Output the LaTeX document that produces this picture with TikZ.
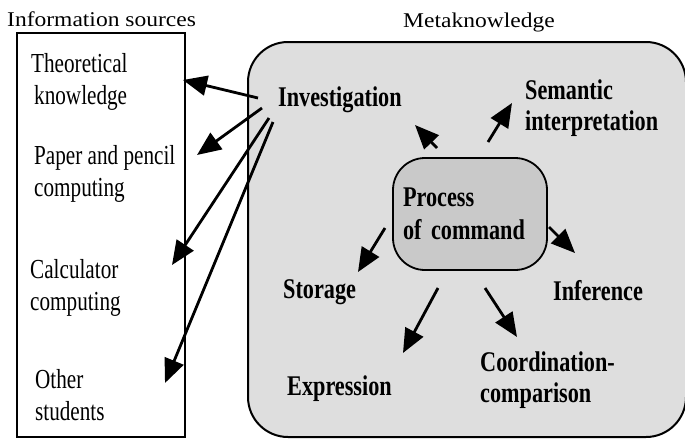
\documentclass[tikz,border=0pt]{standalone}
\usepackage{fontspec}
\setmainfont{Liberation Serif}
\newfontfamily\titlefont[FakeStretch=1.12]{Liberation Serif}
\newfontfamily\regfont[FakeStretch=0.77]{Liberation Serif}
\newfontfamily\boldfont[FakeStretch=0.78]{Liberation Serif}
\usetikzlibrary{arrows.meta}
\definecolor{metafill}{HTML}{DEDEDE}
\definecolor{procfill}{HTML}{C9C9C9}
\tikzset{
  titletext/.style={font=\titlefont\fontsize{21}{24}\selectfont, anchor=base west, inner sep=0pt},
  srctext/.style={font=\regfont\fontsize{27.5}{32}\selectfont, align=left, anchor=base west, inner sep=0pt},
  metatext/.style={font=\boldfont\bfseries\fontsize{28.5}{31}\selectfont, align=left, anchor=base west, inner sep=0pt},
  frame/.style={draw=black, line width=2pt},
  arr/.style={line width=2.8pt, -{Triangle[length=24pt,width=20pt]}},
}
\begin{document}
\begin{tikzpicture}[x=1pt,y=-1pt]
\useasboundingbox (0,0) rectangle (685,440);
% titles
\node[titletext] (t1) at (7,26) {Information sources};
\node[titletext] (t2) at (403,27) {Metaknowledge};
% frames
\draw[frame] (17,33) rectangle (185,437);
\draw[frame, fill=metafill, rounded corners=40pt] (248,42) rectangle (686,437);
% process node
\node[draw=black, line width=1.8pt, fill=procfill, rounded corners=32pt,
      text width=134pt, inner xsep=10pt, inner ysep=0pt, minimum height=112pt,
      align=left, font=\boldfont\bfseries\fontsize{28.5}{33}\selectfont] (proc) at (470,214) {Process\\of command};
% source texts (anchor = baseline of the last line)
\node[srctext] (theo) at (31,104) {Theoretical\\\hspace*{3pt}knowledge};
\node[srctext] (paper) at (34,196) {Paper and pencil\\computing};
\node[srctext] (calc) at (30,310) {Calculator\\computing};
\node[srctext] (other) at (35,420) {Other\\students};
% meta texts
\node[metatext] (inv) at (278,106) {Investigation};
\node[metatext] (sem) at (525,130) {Semantic\\interpretation};
\node[metatext] (sto) at (283,298) {Storage};
\node[metatext] (inf) at (553,300) {Inference};
\node[metatext] (exp) at (287,395) {Expression};
\node[metatext] (coo) at (480,402) {Coordination-\\comparison};
% arrow end points
\coordinate (inv-a) at (258,98);
\coordinate (inv-b) at (262,108);
\coordinate (inv-c) at (269,118);
\coordinate (inv-d) at (273,122);
\coordinate (theo-in) at (183,80);
\coordinate (paper-in) at (197,155);
\coordinate (calc-in) at (172,265);
\coordinate (other-in) at (165,383);
\coordinate (proc-inv) at (437,148);
\coordinate (proc-sem) at (488,142);
\coordinate (proc-inf) at (549,227);
\coordinate (proc-sto) at (385,228);
\coordinate (proc-exp) at (438,288);
\coordinate (proc-coo) at (485,288);
\coordinate (inv-in) at (415,125);
\coordinate (sem-in) at (512,103);
\coordinate (inf-in) at (575,253);
\coordinate (sto-in) at (358,272);
\coordinate (exp-in) at (403,353);
\coordinate (coo-in) at (517,337);
% arrows
\draw[arr] (inv-a) -- (theo-in);
\draw[arr] (inv-b) -- (paper-in);
\draw[arr] (inv-c) -- (calc-in);
\draw[arr] (inv-d) -- (other-in);
\draw[arr] (proc-inv) -- (inv-in);
\draw[arr] (proc-sem) -- (sem-in);
\draw[arr] (proc-inf) -- (inf-in);
\draw[arr] (proc-sto) -- (sto-in);
\draw[arr] (proc-exp) -- (exp-in);
\draw[arr] (proc-coo) -- (coo-in);
\end{tikzpicture}
\end{document}
